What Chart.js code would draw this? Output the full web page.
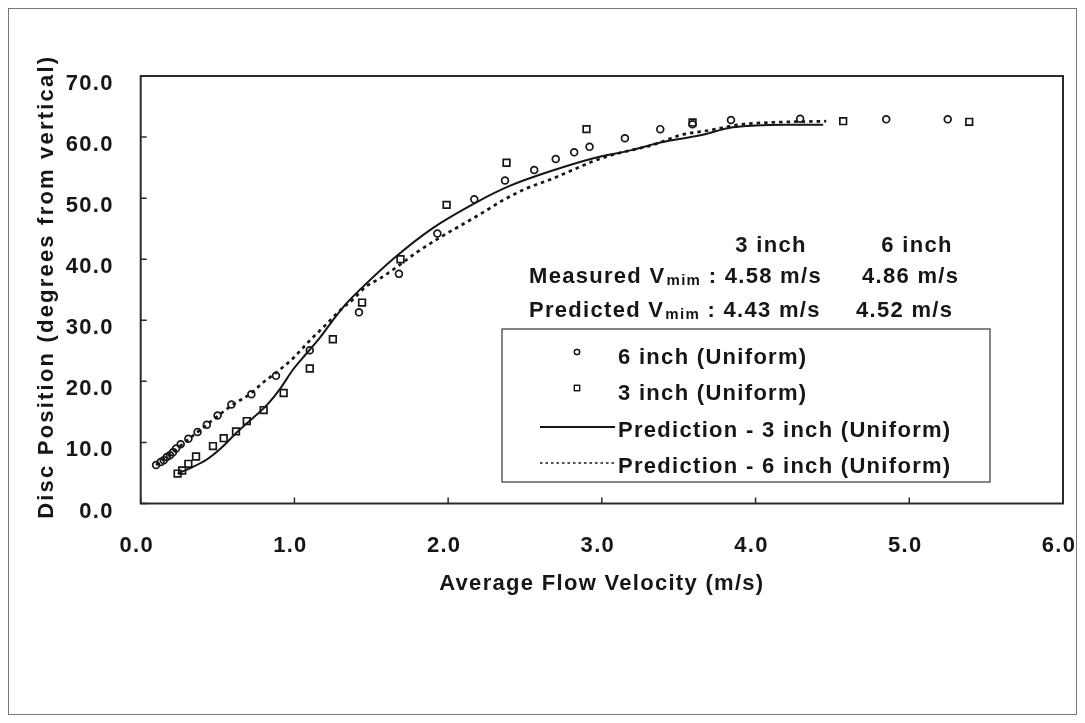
<!DOCTYPE html>
<html>
<head>
<meta charset="utf-8">
<script src="https://cdn.jsdelivr.net/npm/chart.js@4.4.1/dist/chart.umd.min.js"></script>
<style>
  html, body { margin: 0; padding: 0; background: #fff; }
  #wrap { position: relative; width: 1085px; height: 723px; }
</style>
</head>
<body>
<div id="wrap"><canvas id="chart"></canvas></div>
<script>
// Measured disc position, 6 inch valve (uniform flow)
const sixInchVelocity = [0.10, 0.13, 0.15, 0.17, 0.19, 0.21, 0.23, 0.26, 0.31, 0.37, 0.43, 0.50, 0.59, 0.72, 0.88,
  1.10, 1.42, 1.68, 1.93, 2.17, 2.37, 2.56, 2.70, 2.82, 2.92, 3.15, 3.38, 3.59, 3.84, 4.29, 4.85, 5.25];
const sixInchAngle = [6.3, 6.8, 7.1, 7.6, 7.9, 8.4, 9.0, 9.7, 10.6, 11.7, 12.9, 14.4, 16.2, 17.9, 20.9,
  25.1, 31.3, 37.6, 44.2, 49.8, 52.9, 54.6, 56.4, 57.5, 58.4, 59.8, 61.3, 62.1, 62.8, 63.0, 62.9, 62.9];

// Measured disc position, 3 inch valve (uniform flow)
const threeInchVelocity = [0.24, 0.27, 0.31, 0.36, 0.47, 0.54, 0.62, 0.69, 0.80, 0.93, 1.10, 1.25, 1.44,
  1.69, 1.99, 2.38, 2.90, 3.59, 4.57, 5.39];
const threeInchAngle = [4.9, 5.4, 6.5, 7.7, 9.4, 10.7, 11.8, 13.5, 15.3, 18.1, 22.1, 26.9, 32.9,
  40.0, 48.9, 55.8, 61.3, 62.4, 62.6, 62.5];

// Model prediction, 3 inch valve
const pred3Velocity = [0.24, 0.34, 0.43, 0.52, 0.62, 0.73, 0.82, 0.91, 0.99, 1.08, 1.17, 1.25, 1.34, 1.43,
  1.64, 1.90, 2.19, 2.40, 2.64, 2.94, 3.20, 3.38, 3.64, 3.85, 4.00, 4.20, 4.44];
const pred3Angle = [4.9, 6.0, 7.2, 9.0, 11.5, 14.0, 16.1, 18.9, 21.9, 24.6, 27.3, 30.0, 32.8, 35.1,
  40.0, 45.1, 49.4, 52.0, 54.2, 56.5, 57.9, 59.1, 60.3, 61.6, 61.9, 62.0, 62.0];

// Model prediction, 6 inch valve
const pred6Velocity = [0.10, 0.20, 0.30, 0.40, 0.50, 0.60, 0.71, 0.80, 0.90, 1.00, 1.10, 1.21, 1.30, 1.38,
  1.47, 1.56, 1.67, 1.80, 1.95, 2.08, 2.21, 2.36, 2.51, 2.66, 2.81, 2.94, 3.07, 3.20, 3.33, 3.51, 3.72,
  3.88, 4.10, 4.46];
const pred6Angle = [6.3, 8.2, 10.3, 12.3, 14.3, 16.2, 17.9, 19.9, 21.8, 24.0, 26.7, 29.4, 31.7, 33.4,
  35.6, 36.9, 38.8, 41.2, 43.6, 45.5, 47.4, 49.7, 51.6, 53.0, 54.6, 56.0, 57.1, 57.9, 58.7, 60.3, 61.2,
  62.0, 62.4, 62.6];

// Axis ticks
const velocityTicks = [0, 1, 2, 3, 4, 5, 6];
const angleTicks = [0, 10, 20, 30, 40, 50, 60, 70];

// Minimum-velocity summary
const summaryColumns = ['3 inch', '6 inch'];
const measuredVmin = ['4.58', '4.86'];
const predictedVmin = ['4.43', '4.52'];

const legendLabels = ['6 inch (Uniform)', '3 inch (Uniform)',
  'Prediction - 3 inch (Uniform)', 'Prediction - 6 inch (Uniform)'];

const yTitle = 'Disc Position (degrees from vertical)';
const xTitle = 'Average Flow Velocity (m/s)';

const INK = '#161616';
const FONT = "'Liberation Sans', Arial, Helvetica, sans-serif";
const SPACING = '1.3px';

const zip = (xs, ys) => xs.map((x, i) => ({ x, y: ys[i] }));

// letter spacing for all canvas text (reset whenever the canvas is resized)
const spacingPlugin = {
  id: 'spacing',
  beforeLayout(chart) { chart.ctx.letterSpacing = SPACING; },
  beforeDraw(chart) { chart.ctx.letterSpacing = SPACING; }
};

// page frame, plot box, inward tick marks and the rotated y title
const framePlugin = {
  id: 'frame',
  beforeDraw(chart) {
    const ctx = chart.ctx;
    ctx.save();
    ctx.fillStyle = '#fff';
    ctx.fillRect(0, 0, chart.width, chart.height);
    ctx.strokeStyle = '#777';
    ctx.lineWidth = 1;
    ctx.strokeRect(8.5, 8.5, chart.width - 17, chart.height - 17);
    ctx.restore();
  },
  afterDraw(chart) {
    const { ctx, chartArea: a, scales } = chart;
    ctx.save();
    ctx.strokeStyle = '#2a2a2a';
    ctx.lineWidth = 2;
    ctx.strokeRect(a.left, a.top, a.right - a.left, a.bottom - a.top);
    ctx.lineWidth = 1.5;
    ctx.beginPath();
    scales.x.ticks.forEach(t => {
      const px = scales.x.getPixelForValue(t.value);
      ctx.moveTo(px, a.bottom);
      ctx.lineTo(px, a.bottom - 6);
    });
    scales.y.ticks.forEach(t => {
      const py = scales.y.getPixelForValue(t.value);
      ctx.moveTo(a.left, py);
      ctx.lineTo(a.left + 6, py);
    });
    ctx.stroke();

    // y axis title, set a little wider than the tick text
    ctx.letterSpacing = '2.2px';
    ctx.fillStyle = INK;
    ctx.font = `bold 22px ${FONT}`;
    ctx.textAlign = 'center';
    ctx.textBaseline = 'middle';
    ctx.translate(47, (a.top + a.bottom) / 2 - 3);
    ctx.rotate(-Math.PI / 2);
    ctx.fillText(yTitle, 0, 0);
    ctx.restore();
    ctx.letterSpacing = SPACING;
  }
};

// boxed legend inside the plot
const legendPlugin = {
  id: 'boxLegend',
  afterDraw(chart) {
    const ctx = chart.ctx;
    const ds = chart.data.datasets;
    const box = { left: 502, top: 329, right: 990, bottom: 482 };
    ctx.save();
    ctx.fillStyle = '#fff';
    ctx.fillRect(box.left, box.top, box.right - box.left, box.bottom - box.top);
    ctx.strokeStyle = '#333';
    ctx.lineWidth = 1.2;
    ctx.strokeRect(box.left, box.top, box.right - box.left, box.bottom - box.top);

    const textX = 618;
    const rows = [358, 394, 431, 467];
    // marker rows
    [0, 1].forEach(i => {
      Chart.helpers.drawPoint(ctx, {
        pointStyle: ds[i].pointStyle,
        radius: i === 0 ? 2.7 : 3.7,
        borderWidth: 1.6,
        rotation: 0
      }, 577, rows[i] - 6);
      ctx.strokeStyle = INK;
      ctx.stroke();
    });
    // line rows
    [2, 3].forEach(i => {
      ctx.beginPath();
      ctx.strokeStyle = INK;
      ctx.lineWidth = i === 2 ? 1.8 : 1.7;
      ctx.setLineDash(i === 2 ? [] : [2.5, 3]);
      ctx.moveTo(540, rows[i] - 4);
      ctx.lineTo(615, rows[i] - 4);
      ctx.stroke();
    });
    ctx.setLineDash([]);
    ctx.fillStyle = INK;
    ctx.font = `bold 22px ${FONT}`;
    ctx.textBaseline = 'middle';
    ctx.textAlign = 'left';
    legendLabels.forEach((t, i) => ctx.fillText(t, textX, rows[i]));
    ctx.restore();
  }
};

// V_min summary block
const summaryPlugin = {
  id: 'summary',
  afterDraw(chart) {
    const ctx = chart.ctx;
    ctx.save();
    ctx.fillStyle = INK;
    ctx.textBaseline = 'alphabetic';
    ctx.font = `bold 22px ${FONT}`;
    ctx.textAlign = 'center';
    ctx.fillText(summaryColumns[0], 771, 252);
    ctx.fillText(summaryColumns[1], 917, 252);
    ctx.textAlign = 'left';
    const row = (label, values, y, col2) => {
      let x = 529;
      ctx.font = `bold 22px ${FONT}`;
      ctx.fillText(label + ' V', x, y);
      x += ctx.measureText(label + ' V').width;
      ctx.font = `bold 15px ${FONT}`;
      ctx.fillText('mim', x + 1, y + 2);
      x += ctx.measureText('mim').width + 1;
      ctx.font = `bold 22px ${FONT}`;
      ctx.fillText(' : ' + values[0] + ' m/s', x, y);
      ctx.fillText(values[1] + ' m/s', col2, y);
    };
    row('Measured', measuredVmin, 283, 862);
    row('Predicted', predictedVmin, 317, 856);
    ctx.restore();
  }
};

const tickFont = { size: 22, weight: 'bold', family: FONT };

new Chart(document.getElementById('chart'), {
  type: 'scatter',
  data: {
    datasets: [
      {
        label: legendLabels[0],
        data: zip(sixInchVelocity, sixInchAngle),
        pointStyle: 'circle', pointRadius: 3.4, borderWidth: 1.7,
        borderColor: INK, backgroundColor: 'rgba(255,255,255,0)', showLine: false
      },
      {
        label: legendLabels[1],
        data: zip(threeInchVelocity, threeInchAngle),
        pointStyle: 'rect', pointRadius: 4.7, borderWidth: 1.7,
        borderColor: INK, backgroundColor: 'rgba(255,255,255,0)', showLine: false
      },
      {
        label: legendLabels[2],
        data: zip(pred3Velocity, pred3Angle),
        showLine: true, pointRadius: 0, borderWidth: 2, borderColor: INK,
        cubicInterpolationMode: 'monotone'
      },
      {
        label: legendLabels[3],
        data: zip(pred6Velocity, pred6Angle),
        showLine: true, pointRadius: 0, borderWidth: 2.7, borderColor: INK,
        borderDash: [3.5, 4], cubicInterpolationMode: 'monotone'
      }
    ]
  },
  options: {
    responsive: true,
    maintainAspectRatio: false,
    animation: false,
    events: [],
    layout: { padding: { left: 34, right: 22, top: 76, bottom: 125.5 } },
    font: { family: FONT },
    plugins: { legend: { display: false }, tooltip: { enabled: false } },
    scales: {
      x: {
        type: 'linear', min: 0, max: 6,
        afterBuildTicks: s => { s.ticks = velocityTicks.map(v => ({ value: v })); },
        afterFit: s => { s.height = 94; s.paddingLeft = 0; s.paddingRight = 0; },
        grid: { display: false, drawTicks: false },
        border: { display: false },
        ticks: {
          padding: 29, labelOffset: -4, color: INK, font: tickFont,
          maxRotation: 0, autoSkip: false, callback: v => Number(v).toFixed(1)
        },
        title: {
          display: true, text: xTitle, color: INK,
          font: { size: 22, weight: 'bold', family: FONT }, padding: 0
        }
      },
      y: {
        type: 'linear', min: 0, max: 70,
        afterBuildTicks: s => { s.ticks = angleTicks.map(v => ({ value: v })); },
        afterFit: s => { s.width = 106.7; s.paddingTop = 0; s.paddingBottom = 0; },
        grid: { display: false, drawTicks: false },
        border: { display: false },
        ticks: {
          padding: 27, labelOffset: 8, color: INK, font: tickFont,
          autoSkip: false, callback: v => Number(v).toFixed(1)
        },
        title: { display: false }
      }
    }
  },
  plugins: [spacingPlugin, framePlugin, legendPlugin, summaryPlugin]
});
</script>
</body>
</html>
